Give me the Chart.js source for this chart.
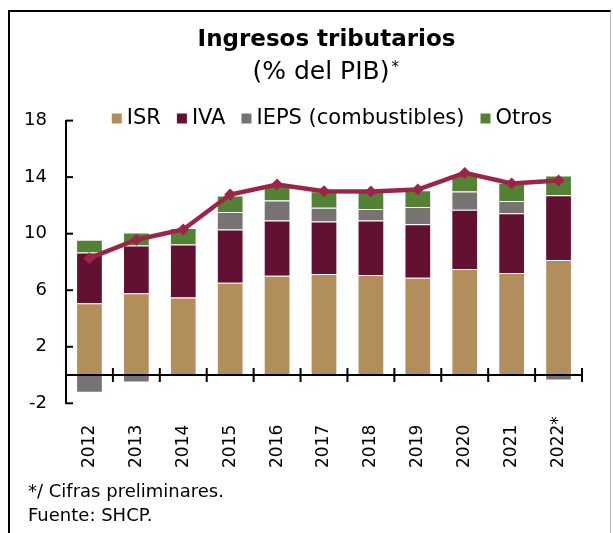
<!DOCTYPE html>
<html><head><meta charset="utf-8">
<script src="https://cdn.jsdelivr.net/npm/chart.js@4.4.1/dist/chart.umd.min.js"></script>
<style>
html,body{margin:0;padding:0;background:#fff;}
#wrap{position:relative;width:613px;height:533px;overflow:hidden;}
#frame{position:absolute;left:8px;top:10px;width:600px;height:600px;border-left:2px solid #000;border-top:2px solid #000;border-right:1px solid #bbb;}
canvas{position:absolute;left:0;top:0;}
</style></head><body>
<div id="wrap"><div id="frame"></div><canvas id="c" width="613" height="533"></canvas></div>
<script>
const years = ['2012','2013','2014','2015','2016','2017','2018','2019','2020','2021','2022*'];
const seriesNames = ['ISR','IVA','IEPS (combustibles)','Otros'];
const isr   = [5.08, 5.79, 5.48, 6.52, 7.02, 7.15, 7.07, 6.88, 7.50, 7.21, 8.13];
const iva   = [3.59, 3.38, 3.76, 3.78, 3.92, 3.71, 3.87, 3.78, 4.20, 4.23, 4.59];
const ieps  = [-1.25, -0.52, -0.10, 1.24, 1.40, 0.98, 0.81, 1.23, 1.28, 0.88, -0.38];
const otros = [0.90, 0.92, 1.16, 1.16, 1.16, 1.16, 1.23, 1.18, 1.22, 1.28, 1.39];
const total = [8.27, 9.57, 10.30, 12.77, 13.48, 13.00, 12.98, 13.12, 14.30, 13.55, 13.76];
const yTicks = [-2, 2, 6, 10, 14, 18];
const titleText = 'Ingresos tributarios';
const subtitleText = '(% del PIB)';
const footnote1 = '*/ Cifras preliminares.';
const footnote2 = 'Fuente: SHCP.';

const FONT = '"DejaVu Sans", sans-serif';
const colors = ['#B38E5D', '#621132', '#777372', '#548235'];
const lineColor = '#9D2449';
Chart.defaults.font.family = FONT;
Chart.defaults.color = '#000';

const seriesData = [isr, iva, ieps, otros];

const decor = {
  id: 'decor',
  afterDatasetsDraw(chart) {
    const ctx = chart.ctx, xs = chart.scales.x, ys = chart.scales.y, a = chart.chartArea;
    ctx.save();
    ctx.strokeStyle = '#000'; ctx.lineWidth = 2;
    ys.ticks.forEach(t => {
      const y = ys.getPixelForValue(t.value);
      ctx.beginPath(); ctx.moveTo(a.left, y); ctx.lineTo(a.left + 7, y); ctx.stroke();
    });
    const y0 = ys.getPixelForValue(0);
    ctx.beginPath(); ctx.moveTo(a.left, y0); ctx.lineTo(a.right, y0); ctx.stroke();
    const n = years.length;
    const step = xs.getPixelForValue(1) - xs.getPixelForValue(0);
    for (let i = 1; i <= n; i++) {
      const xb = xs.getPixelForValue(i - 1) + step / 2;
      ctx.beginPath(); ctx.moveTo(xb, y0 - 7); ctx.lineTo(xb, y0 + 7); ctx.stroke();
    }
    ctx.fillStyle = '#000'; ctx.font = '17px ' + FONT;
    ctx.textAlign = 'left'; ctx.textBaseline = 'middle';
    years.forEach((lab, i) => {
      const x = xs.getPixelForValue(i);
      ctx.save(); ctx.translate(x, 468); ctx.rotate(-Math.PI / 2);
      ctx.fillText(lab, 0, 0); ctx.restore();
    });
    ctx.restore();
  },
  afterDraw(chart) {
    const ctx = chart.ctx;
    ctx.save();
    ctx.fillStyle = '#000'; ctx.textBaseline = 'alphabetic';
    ctx.font = 'bold 23px ' + FONT; ctx.textAlign = 'center';
    ctx.fillText(titleText, 326.5, 46);
    ctx.font = '25px ' + FONT; ctx.textAlign = 'left';
    const w = ctx.measureText(subtitleText).width;
    const sx = 321 - w / 2;
    ctx.fillText(subtitleText, sx, 79);
    ctx.font = '15px ' + FONT; ctx.fillText('*', sx + w + 2, 72);
    ctx.font = '21px ' + FONT;
    const items = seriesNames.map((s, i) => ({ s, c: colors[i], w: ctx.measureText(s).width }));
    const tw = items.reduce((acc, it) => acc + 15 + it.w, 0) + 16 * (items.length - 1);
    let x = 332 - tw / 2;
    items.forEach(it => {
      ctx.fillStyle = it.c; ctx.fillRect(x, 113.5, 10, 10);
      ctx.fillStyle = '#000'; ctx.fillText(it.s, x + 15, 124);
      x += 15 + it.w + 16;
    });
    ctx.font = '18px ' + FONT;
    ctx.fillText(footnote1, 28, 497);
    ctx.fillText(footnote2, 28, 521);
    ctx.restore();
  }
};

const datasets = seriesData.map((d, i) => ({
  type: 'bar', label: seriesNames[i], data: d, backgroundColor: colors[i],
  borderColor: 'rgba(255,255,255,0.35)', borderWidth: 1,
  stack: 'a', order: 1, barPercentage: 0.57, categoryPercentage: 1.0
}));
datasets.push({
  type: 'line', label: 'Total', data: total, borderColor: lineColor, backgroundColor: lineColor,
  borderWidth: 4.5, pointStyle: 'rectRot', pointRadius: 6, pointBorderWidth: 0,
  pointBackgroundColor: lineColor, tension: 0, stack: 'line', order: 0
});

new Chart(document.getElementById('c'), {
  data: { labels: years, datasets },
  options: {
    responsive: false, animation: false, devicePixelRatio: 1,
    layout: { padding: { left: 0, top: 120.6, right: 31, bottom: 129.7 } },
    plugins: { legend: { display: false }, title: { display: false }, tooltip: { enabled: false } },
    scales: {
      x: { stacked: true, display: false, offset: true },
      y: {
        stacked: true, min: -2, max: 18,
        afterBuildTicks: s => { s.ticks = yTicks.map(v => ({ value: v })); },
        afterFit: s => { s.width = 66; },
        grid: { display: false, drawTicks: false },
        border: { display: true, color: '#000', width: 2 },
        ticks: { font: { size: 18, family: FONT }, color: '#000', padding: 19 }
      }
    }
  },
  plugins: [decor]
});
</script>
</body></html>
